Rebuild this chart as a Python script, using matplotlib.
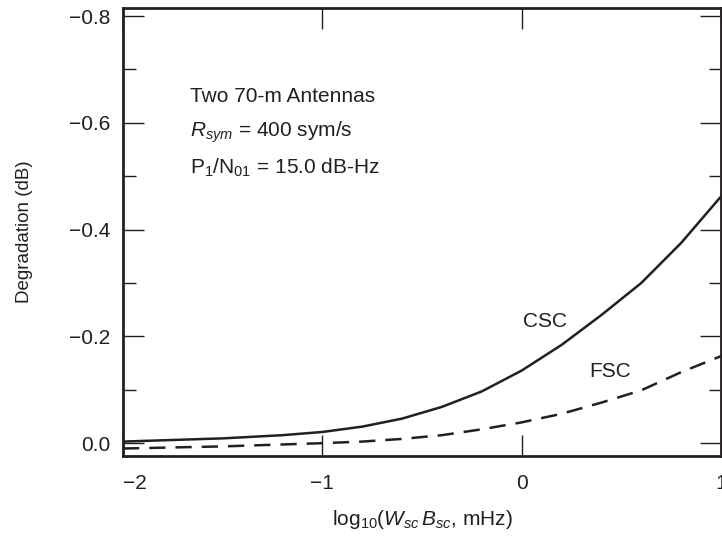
import matplotlib
matplotlib.use("Agg")
import matplotlib.pyplot as plt
from matplotlib.ticker import MultipleLocator

plt.rcParams['font.family'] = ['Liberation Sans', 'DejaVu Sans']
plt.rcParams['mathtext.fontset'] = 'custom'
plt.rcParams['mathtext.rm'] = 'Liberation Sans'
plt.rcParams['mathtext.it'] = 'Liberation Sans:italic'

ink = '#231f20'

# CSC (solid) curve
csc_x = [-2.0, -1.5, -1.2, -1.0, -0.8, -0.6, -0.4, -0.2, 0.0, 0.2, 0.4, 0.6, 0.8, 1.0]
csc_y = [-0.003, -0.009, -0.015, -0.021, -0.031, -0.046, -0.068, -0.097, -0.136,
         -0.184, -0.240, -0.300, -0.375, -0.462]

# FSC (dashed) curve
fsc_x = [-2.0, -1.5, -1.0, -0.8, -0.6, -0.4, -0.2, 0.0, 0.2, 0.4, 0.6, 0.8, 1.0]
fsc_y = [0.010, 0.006, 0.0, -0.003, -0.008, -0.015, -0.026, -0.039, -0.055,
         -0.076, -0.099, -0.133, -0.163]

fig = plt.figure(figsize=(7.22, 5.39), dpi=100)
ax = fig.add_axes([123 / 722, 1 - 456 / 539, 598 / 722, 448 / 539])

ax.plot(csc_x, csc_y, color=ink, lw=1.8)
ax.plot(fsc_x, fsc_y, color=ink, lw=1.8, dashes=(6.5, 4))

ax.set_xlim(-2, 1)
ax.set_ylim(0.024, -0.815)

ax.xaxis.set_major_locator(MultipleLocator(1))
ax.yaxis.set_major_locator(MultipleLocator(0.2))
ax.yaxis.set_minor_locator(MultipleLocator(0.1))
ax.tick_params(which='both', direction='in', top=True, right=True, colors=ink,
               labelsize=15, width=1)
ax.tick_params(which='major', length=15)
ax.tick_params(axis='y', which='major', pad=9)
ax.tick_params(axis='x', which='major', pad=13)
ax.tick_params(which='minor', length=9)
ax.set_yticks([0.0, -0.2, -0.4, -0.6, -0.8])
ax.set_yticklabels(['0.0', '\u22120.2', '\u22120.4', '\u22120.6', '\u22120.8'])
ax.set_xticks([-2, -1, 0, 1])
ax.set_xticklabels(['\u22122', '\u22121', '0', '1'])
ax.get_xticklabels()[0].set_horizontalalignment('left')
for s in ax.spines.values():
    s.set_linewidth(2)
    s.set_color(ink)

ax.set_ylabel('Degradation (dB)', fontsize=13.5, color=ink, labelpad=26)
ax.set_xlabel(r'log$_{10}$($W_{sc}\,B_{sc}$, mHz)', fontsize=15, color=ink, labelpad=11)

ax.text(0.112, 0.802, 'Two 70-m Antennas', transform=ax.transAxes, fontsize=15,
        color=ink, va='center')
ax.text(0.112, 0.722, r'$R_{sym}$ = 400 sym/s', transform=ax.transAxes, fontsize=15,
        color=ink, va='center')
ax.text(0.112, 0.643, r'P$_1$/N$_{01}$ = 15.0 dB-Hz', transform=ax.transAxes,
        fontsize=15, color=ink, va='center')

ax.text(0.115, -0.228, 'CSC', fontsize=15, color=ink, ha='center', va='center')
ax.text(0.445, -0.135, 'FSC', fontsize=15, color=ink, ha='center', va='center')

fig.savefig('out.png', dpi=100)
